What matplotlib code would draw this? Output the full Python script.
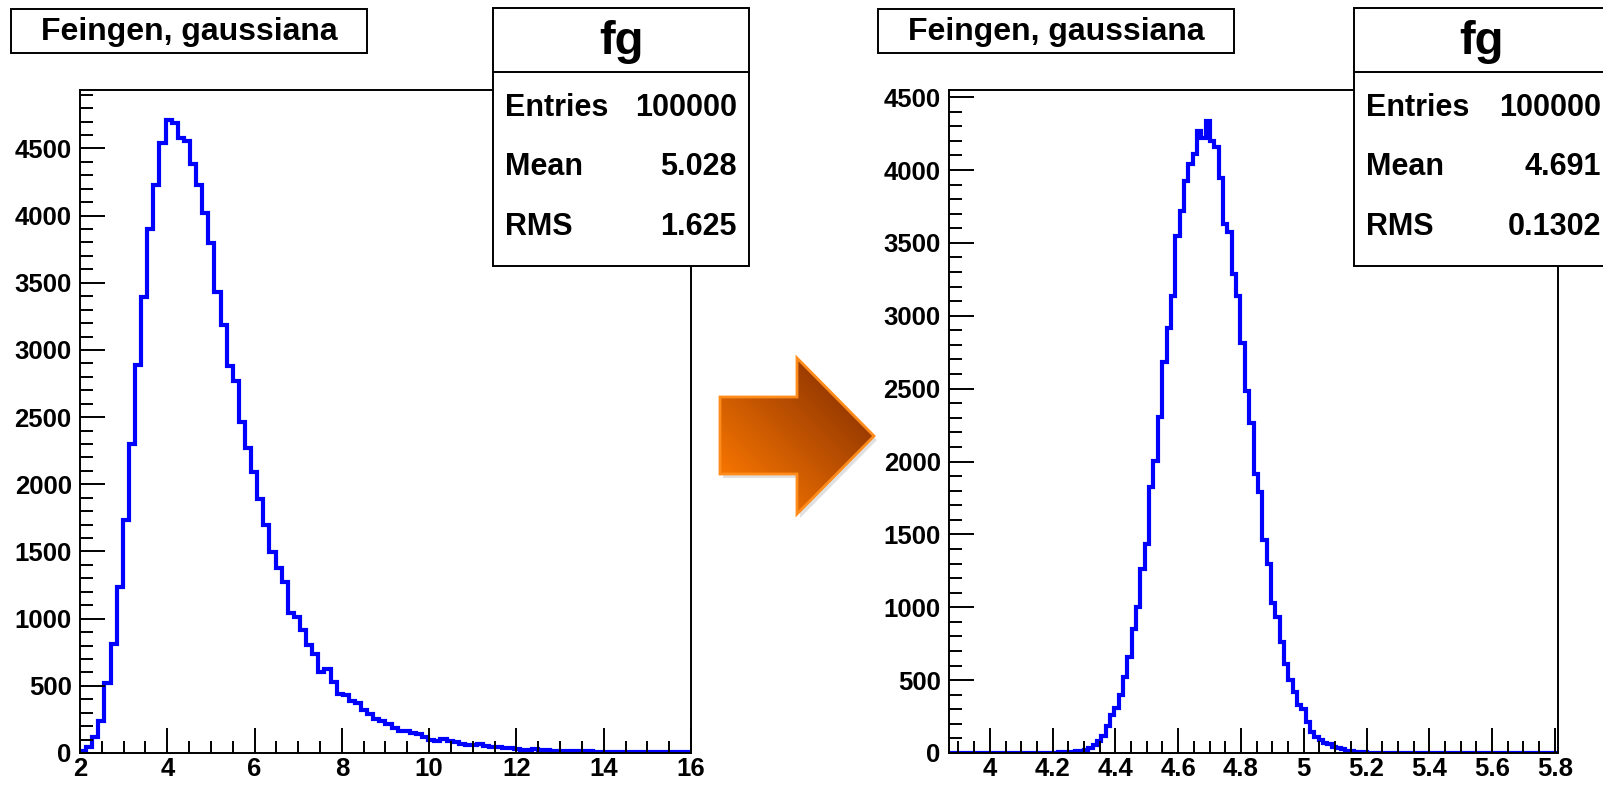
import numpy as np
import matplotlib.pyplot as plt
from matplotlib.patches import Polygon, Rectangle
from matplotlib.ticker import MultipleLocator, FormatStrFormatter

plt.rcParams['font.family'] = ['Liberation Sans', 'DejaVu Sans']
plt.rcParams['font.weight'] = 'bold'

TITLE = "Feingen, gaussiana"
HIST_NAME = "fg"
STAT_NAMES = ["Entries", "Mean", "RMS"]

# left histogram: 100 bins on [2, 16]
left_range = (2, 16)
left_counts = [
    15, 45, 120, 240, 520, 815, 1235, 1736, 2302, 2885,
    3396, 3900, 4225, 4540, 4708, 4690, 4579, 4559, 4381, 4227,
    4021, 3794, 3434, 3185, 2880, 2768, 2462, 2271, 2091, 1893,
    1698, 1494, 1378, 1274, 1044, 1013, 912, 802, 739, 604,
    625, 530, 438, 430, 386, 374, 320, 290, 250, 238,
    215, 188, 166, 166, 146, 139, 121, 94, 92, 102,
    87, 84, 69, 59, 59, 64, 54, 47, 42, 40,
    35, 32, 22, 20, 30, 20, 20, 18, 16, 15,
    14, 14, 12, 12, 11, 10, 10, 9, 9, 8,
    8, 7, 7, 6, 6, 6, 5, 5, 4, 4,
]
left_stats = ["100000", "5.028", "1.625"]

# right histogram: 140 bins on [3.87, 5.81]
right_range = (3.87, 5.81)
right_counts = [
    0, 0, 0, 0, 0, 0, 0, 0, 0, 0,
    0, 0, 0, 0, 0, 0, 1, 0, 1, 1,
    1, 2, 2, 3, 3, 4, 5, 7, 9, 12,
    15, 20, 32, 52, 81, 116, 183, 262, 308, 396,
    524, 657, 852, 1001, 1265, 1434, 1827, 2001, 2307, 2685,
    2918, 3136, 3549, 3718, 3927, 4038, 4110, 4270, 4218, 4336,
    4200, 4160, 3945, 3630, 3572, 3287, 3136, 2816, 2481, 2263,
    1914, 1792, 1463, 1297, 1027, 931, 765, 611, 503, 416,
    329, 300, 212, 146, 112, 89, 70, 59, 43, 32,
    25, 16, 11, 8, 6, 4, 3, 3, 2, 2,
    1, 1, 1, 0, 1, 0, 0, 1, 0, 0,
    0, 0, 0, 0, 0, 0, 0, 0, 0, 0,
    0, 0, 0, 0, 0, 0, 0, 0, 0, 0,
    0, 0, 0, 0, 0, 0, 0, 0, 0, 0,
]
right_stats = ["100000", "4.691", "0.1302"]

W, H = 1603, 786
fig = plt.figure(figsize=(W / 100, H / 100), dpi=100)


def draw_hist(rect, counts, xr, xmajor, xminor, ymax):
    ax = fig.add_axes(rect)
    edges = np.linspace(xr[0], xr[1], len(counts) + 1)
    ax.stairs(counts, edges, color='#0000ff', linewidth=3.0, baseline=0)
    ax.set_xlim(xr)
    ax.set_ylim(0, ymax)
    ax.xaxis.set_major_locator(MultipleLocator(xmajor))
    ax.xaxis.set_minor_locator(MultipleLocator(xminor))
    ax.yaxis.set_major_locator(MultipleLocator(500))
    ax.yaxis.set_minor_locator(MultipleLocator(100))
    ax.xaxis.set_major_formatter(FormatStrFormatter('%g'))
    ax.tick_params(which='both', direction='in', top=False, right=False,
                   width=1.4, labelsize=18.5)
    ax.tick_params(which='major', length=18)
    ax.tick_params(which='minor', length=9)
    ax.tick_params(axis='y', pad=6)
    ax.tick_params(axis='x', pad=3)
    for s in ax.spines.values():
        s.set_linewidth(1.4)
    return ax


draw_hist([80 / W, 33 / H, 611 / W, 663 / H], left_counts, left_range, 2, 0.5, 4935)
draw_hist([949 / W, 33 / H, 609 / W, 663 / H], right_counts, right_range, 0.2, 0.05, 4549)

# overlay in pixel coordinates for boxes and the arrow
ov = fig.add_axes([0, 0, 1, 1], zorder=5)
ov.set_xlim(0, W)
ov.set_ylim(H, 0)
ov.axis('off')
ov.patch.set_alpha(0)

for x0 in (11, 878):
    ov.add_patch(Rectangle((x0, 9), 356, 44, facecolor='white', edgecolor='black', lw=1.4))
    ov.text(x0 + 178, 32, TITLE, fontsize=23, ha='center', va='center')

for x0, vals, vx in ((493, left_stats, 737), (1354, right_stats, 1601)):
    ov.add_patch(Rectangle((x0, 8), 256, 258, facecolor='white', edgecolor='black', lw=1.4))
    ov.plot([x0, x0 + 256], [72, 72], color='black', lw=1.4)
    ov.text(x0 + 128, 42, HIST_NAME, fontsize=34, ha='center', va='center')
    for name, val, yc in zip(STAT_NAMES, vals, (108, 167, 227)):
        ov.text(x0 + 12, yc, name, fontsize=22, ha='left', va='center')
        ov.text(vx, yc, val, fontsize=22, ha='right', va='center')

# orange arrow with gradient
arrow_pts = [(720, 397), (797, 397), (797, 358), (874, 436),
             (797, 514), (797, 474), (720, 474)]
shadow = Polygon([(x + 3, y + 4) for x, y in arrow_pts], closed=True,
                 facecolor='#999999', edgecolor='none', alpha=0.3, zorder=0.5)
ov.add_patch(shadow)
arrow = Polygon(arrow_pts, closed=True, facecolor='none',
                edgecolor='#ff8c1a', lw=2, zorder=3)
ov.add_patch(arrow)
xs = np.linspace(720, 874, 160)
ys = np.linspace(358, 514, 160)
gx, gy = np.meshgrid(xs, ys)
t = np.clip(((gx - 720) + (490 - gy)) / 210.0, 0, 1)
c0 = np.array([255, 122, 0]) / 255.0
c1 = np.array([155, 60, 0]) / 255.0
img = c0[None, None, :] * (1 - t[..., None]) + c1[None, None, :] * t[..., None]
im = ov.imshow(img, extent=(720, 874, 514, 358), origin='upper',
               interpolation='bilinear', zorder=2)
im.set_clip_path(arrow)

fig.savefig('out.png', dpi=100)
